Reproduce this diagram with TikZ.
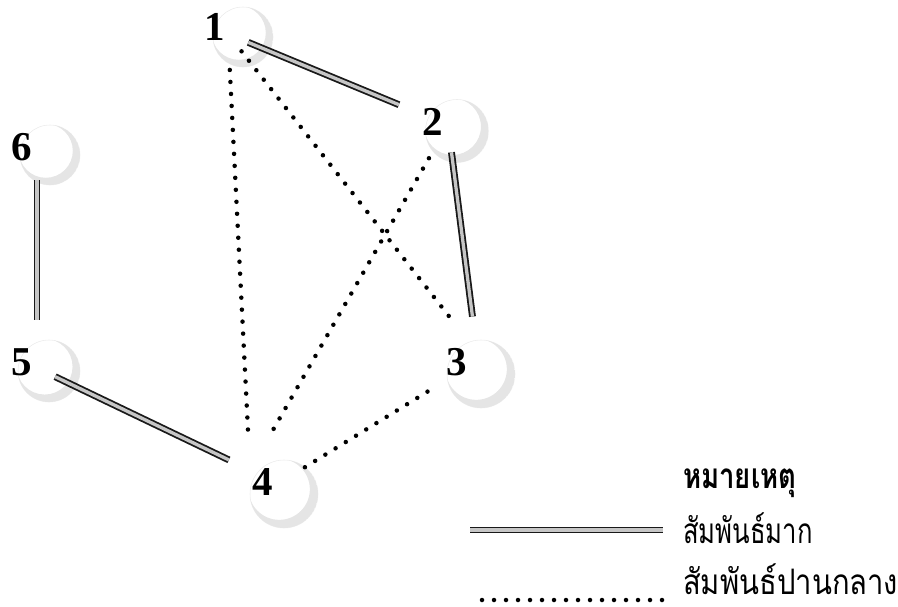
\documentclass[tikz,border=0pt]{standalone}
\usepackage{fontspec}
\setmainfont{Liberation Serif}
\newfontfamily\thaifont[Script=Thai]{Loma}
\tikzset{
  sph/.style={circle, inner sep=0pt, outer sep=0pt, draw=gray!12, line width=0.6pt},
  crescent/.style={fill=gray!20, even odd rule},
  num/.style={font=\fontsize{41}{41}\selectfont\bfseries, inner sep=0pt, anchor=base},
  strong/.style={draw=black!90, line width=1.8pt, double=gray!45, double distance=3.3pt},
  medium/.style={draw=black, line width=4.5pt, line cap=round, dash pattern=on 0pt off 12pt},
  thai/.style={font=\thaifont\fontsize{27}{27}\selectfont, inner sep=0pt, anchor=base west},
  thaibold/.style={font=\thaifont\bfseries\fontsize{27}{27}\selectfont, inner sep=0pt, anchor=base west}
}
% name, x, y, radius
\newcommand\mysphere[4]{%
  \node[sph, minimum size=#4*2pt] (#1) at (#2,#3) {};
  \begin{scope}
    \clip (#1.center) circle (#4pt);
    \path[crescent] (#1.center) circle (#4pt)
      ([shift={(-0.14*#4pt,0.14*#4pt)}]#1.center) circle (0.9*#4pt);
  \end{scope}}
\begin{document}
\begin{tikzpicture}[x=1pt,y=-1pt]
\useasboundingbox (0,0) rectangle (898,606);
% spheres
\mysphere{c1}{243}{37}{30}
\mysphere{c2}{457}{131}{31.5}
\mysphere{c3}{481}{374}{34}
\mysphere{c4}{284}{494}{34}
\mysphere{c5}{49}{371}{31}
\mysphere{c6}{50}{155}{30}
% connection points
\coordinate (h1) at (228,34);
\coordinate (h2) at (448,125);
\coordinate (h3) at (477,352);
\coordinate (h4) at (250,470);
\coordinate (h5) at (37,368);
\coordinate (h6) at (37,150);
% strong relations
\draw[strong, shorten <=21.9pt, shorten >=53.1pt] (h1) -- (h2);
\draw[strong, shorten <=27.5pt, shorten >=35.7pt] (h2) -- (h3);
\draw[strong, shorten <=30pt, shorten >=48pt] (h6) -- (h5);
\draw[strong, shorten <=20.1pt, shorten >=23.4pt] (h5) -- (h4);
% medium relations
\draw[medium, shorten <=36pt, shorten >=33pt] (h1) -- (h4);
\draw[medium, shorten <=22pt, shorten >=45.8pt] (h1) -- (h3);
\draw[medium, shorten <=38.3pt, shorten >=38pt] (h2) -- (h4);
\draw[medium, shorten >=20.5pt] (c4.52) -- (c3.189);
% numbers
\node[num] (l1) at (214.5,40) {1};
\node[num] (l2) at (433,135) {2};
\node[num] (l3) at (457,375) {3};
\node[num] (l4) at (262.5,495) {4};
\node[num] (l5) at (22,375) {5};
\node[num] (l6) at (22,160) {6};
% legend
\node[thaibold] (lh) at (683,488) {\scalebox{1.02}[1.3]{หมายเหตุ}};
\node[thai] (lt1) at (683,543) {\scalebox{0.95}[1.3]{สัมพันธ์มาก}};
\node[thai] (lt2) at (683,594) {\scalebox{1.08}[1.3]{สัมพันธ์ปานกลาง}};
\coordinate (la1) at (470,530);
\coordinate (la2) at (663,530);
\draw[strong] (la1) -- (la2);
\coordinate (lb1) at (482,600);
\coordinate (lb2) at (663,600);
\draw[medium] (lb1) -- (lb2);
\end{tikzpicture}
\end{document}
